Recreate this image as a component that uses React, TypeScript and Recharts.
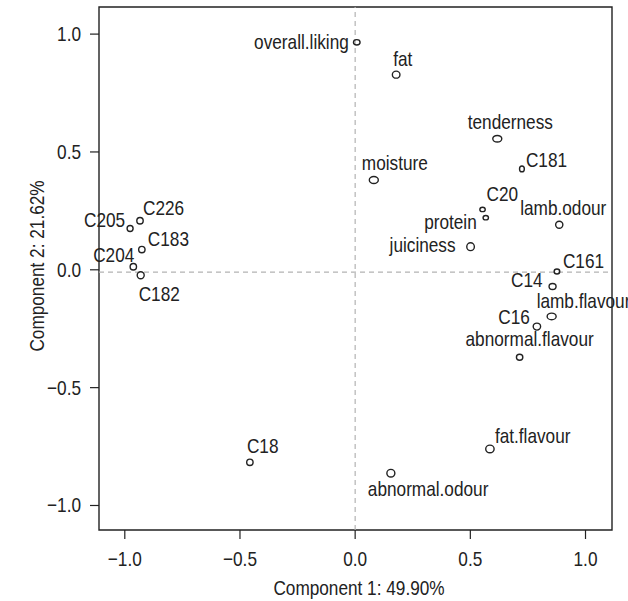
import { ScatterChart, Scatter, XAxis, YAxis, ReferenceLine, ReferenceArea } from 'recharts';

const FONT = "'Liberation Sans', Arial, sans-serif";
const INK = '#222222';
const NARROW = 0.82; // squeeze Liberation Sans to a narrow face

// loadings / scores on the first two components
const names = [
  'overall.liking', 'fat', 'tenderness', 'C181', 'moisture', 'C20', 'protein',
  'lamb.odour', 'juiciness', 'C161', 'C14', 'lamb.flavour', 'C16', 'abnormal.flavour',
  'fat.flavour', 'abnormal.odour', 'C18', 'C205', 'C226', 'C183', 'C204', 'C182',
];
const comp1 = [
  0.007, 0.178, 0.617, 0.724, 0.081, 0.553, 0.567,
  0.886, 0.501, 0.876, 0.857, 0.853, 0.789, 0.714,
  0.585, 0.155, -0.457, -0.977, -0.934, -0.926, -0.963, -0.931,
];
const comp2 = [
  0.965, 0.828, 0.556, 0.428, 0.381, 0.256, 0.221,
  0.191, 0.098, -0.007, -0.071, -0.198, -0.241, -0.371,
  -0.760, -0.863, -0.817, 0.175, 0.208, 0.086, 0.013, -0.023,
];
// ellipse half-widths / half-heights (spread of each point)
const spreadX = [
  3.3, 3.8, 4.5, 2.4, 4.5, 2.7, 2.7,
  3.6, 3.8, 2.8, 3.5, 4.5, 3.7, 3.2,
  4.2, 4.0, 3.2, 3.0, 3.2, 3.2, 3.2, 3.5,
];
const spreadY = [
  2.7, 3.5, 3.3, 2.9, 3.5, 2.2, 2.2,
  3.5, 3.9, 2.5, 3.0, 3.3, 3.5, 3.0,
  3.8, 3.8, 3.2, 3.0, 3.2, 3.2, 3.2, 3.5,
];

const xTicks = [-1, -0.5, 0, 0.5, 1];
const yTicks = [-1, -0.5, 0, 0.5, 1];

// label placement: [anchor, dx, dy] in px from the point
const labelPlace: Record<string, [string, number, number]> = {
  'overall.liking': ['end', -8, 7],
  fat: ['start', -3, -9],
  tenderness: ['middle', 13, -10],
  C181: ['start', 4, -2],
  moisture: ['start', -12, -10],
  C20: ['start', 4, -8],
  protein: ['end', -9, 11],
  'lamb.odour': ['middle', 4, -10],
  juiciness: ['end', -15, 5],
  C161: ['start', 6, -3],
  C14: ['end', -10, 0],
  'lamb.flavour': ['start', -15, -8],
  C16: ['end', -7, -3],
  'abnormal.flavour': ['middle', 10, -11],
  'fat.flavour': ['start', 5, -6],
  'abnormal.odour': ['start', -23, 23],
  C18: ['start', -3, -9],
  C205: ['end', -5, -2],
  C226: ['start', 3, -6],
  C183: ['start', 6, -4],
  C204: ['end', 1, -5],
  C182: ['start', -2, 26],
};

const data = names.map((name, i) => ({
  name,
  x: comp1[i],
  y: comp2[i],
  rx: spreadX[i],
  ry: spreadY[i],
}));

const fmt = (v: number) => (v < 0 ? '\u2212' : '') + Math.abs(v).toFixed(1);

const Label = ({ x, y, anchor = 'start', rotate = 0, children }: any) => (
  <text
    transform={`translate(${x} ${y}) rotate(${rotate}) scale(${NARROW} 1)`}
    textAnchor={anchor}
    fontSize={21}
    fontFamily={FONT}
    fill={INK}
  >
    {children}
  </text>
);

const PointMark = (props: any) => {
  const { cx, cy, payload } = props;
  const [anchor, dx, dy] = labelPlace[payload.name];
  return (
    <g>
      <ellipse cx={cx} cy={cy} rx={payload.rx} ry={payload.ry} fill="none" stroke={INK} strokeWidth={1.4} />
      <Label x={cx + dx} y={cy + dy} anchor={anchor}>
        {payload.name}
      </Label>
    </g>
  );
};

const XTick = ({ x, y, payload }: any) => (
  <Label x={x} y={y + 26.5} anchor="middle">
    {fmt(payload.value)}
  </Label>
);

const YTick = ({ x, y, payload }: any) => (
  <Label x={x - 9} y={y + 7} anchor="end">
    {fmt(payload.value)}
  </Label>
);

export default function App() {
  return (
    <div style={{ position: 'absolute', left: 0, top: 0, width: 628, height: 601, background: '#fff' }}>
      <ScatterChart width={628} height={601} margin={{ top: 7, right: 16, left: 0, bottom: 0 }}>
        <XAxis
          type="number"
          dataKey="x"
          domain={[-1.112, 1.115]}
          ticks={xTicks}
          height={71}
          axisLine={false}
          tickSize={9}
          tickMargin={0}
          tickLine={{ stroke: INK, strokeWidth: 1.2 }}
          tick={<XTick />}
          label={{
            content: () => (
              <Label x={359} y={595} anchor="middle">
                Component 1: 49.90%
              </Label>
            ),
          }}
        />
        <YAxis
          type="number"
          dataKey="y"
          domain={[-1.104, 1.115]}
          ticks={yTicks}
          width={99}
          axisLine={false}
          tickSize={9}
          tickMargin={0}
          tickLine={{ stroke: INK, strokeWidth: 1.2 }}
          tick={<YTick />}
          label={{
            content: () => (
              <Label x={44} y={266} anchor="middle" rotate={-90}>
                Component 2: 21.62%
              </Label>
            ),
          }}
        />
        <ReferenceLine x={0} stroke="#b3b3b3" strokeWidth={1.2} strokeDasharray="5 4" />
        <ReferenceLine y={-0.01} stroke="#b3b3b3" strokeWidth={1.2} strokeDasharray="5 4" />
        <ReferenceArea x1={-1.112} x2={1.115} y1={-1.104} y2={1.115} fill="none" stroke={INK} strokeWidth={1.4} />
        <Scatter data={data} shape={<PointMark />} isAnimationActive={false} />
      </ScatterChart>
    </div>
  );
}
